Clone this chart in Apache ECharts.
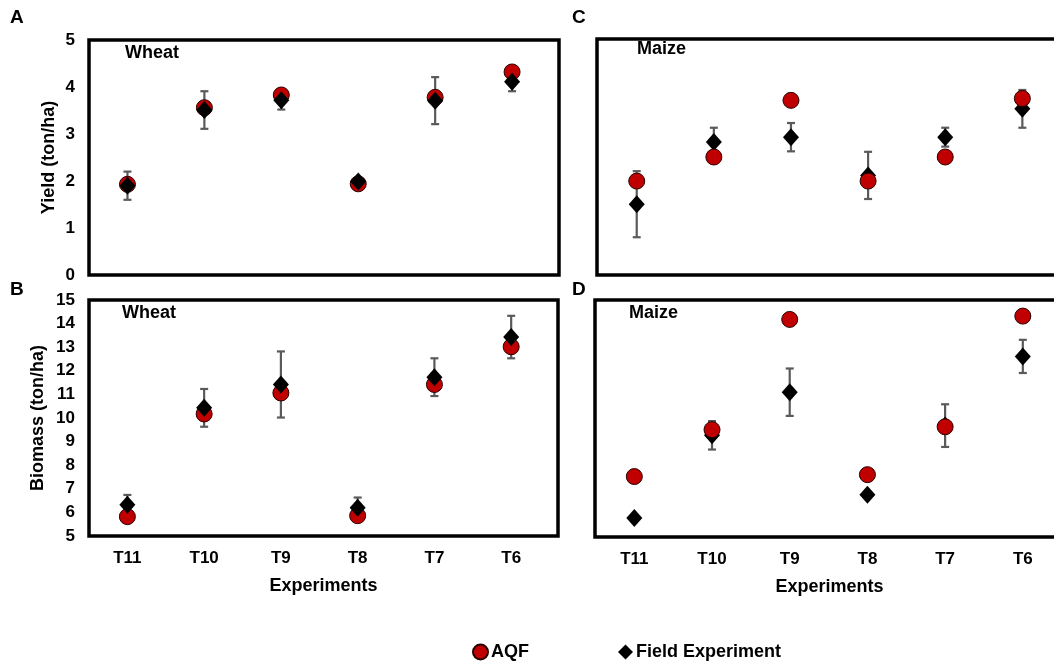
<!DOCTYPE html>
<html>
<head>
<meta charset="utf-8">
<script src="https://cdn.jsdelivr.net/npm/echarts@6/dist/echarts.min.js"></script>
<style>
html,body{margin:0;padding:0;background:#fff;}
#chart{width:1054px;height:666px;}
</style>
</head>
<body>
<div id="chart"></div>
<script>
// ---- Data ----
var categories = ['T11', 'T10', 'T9', 'T8', 'T7', 'T6'];
var yieldTicks = [0, 1, 2, 3, 4, 5];
var biomassTicks = [5, 6, 7, 8, 9, 10, 11, 12, 13, 14, 15];

var wheatYieldAQF = [1.93, 3.56, 3.83, 1.94, 3.78, 4.32];
var wheatYieldField = [1.90, 3.51, 3.72, 1.99, 3.71, 4.11];
var wheatYieldFieldErr = [0.30, 0.40, 0.20, 0.05, 0.50, 0.20];

var maizeYieldAQF = [1.99, 2.50, 3.70, 1.99, 2.50, 3.74];
var maizeYieldField = [1.50, 2.82, 2.92, 2.11, 2.92, 3.52];
var maizeYieldFieldErr = [0.70, 0.30, 0.30, 0.50, 0.20, 0.40];

var wheatBiomassAQF = [5.82, 10.17, 11.06, 5.86, 11.42, 13.02];
var wheatBiomassField = [6.32, 10.43, 11.42, 6.20, 11.73, 13.43];
var wheatBiomassFieldErr = [0.42, 0.80, 1.40, 0.43, 0.80, 0.90];

var maizeBiomassAQF = [7.55, 9.53, 14.18, 7.63, 9.65, 14.32];
var maizeBiomassField = [5.80, 9.29, 11.11, 6.78, 9.70, 12.62];
var maizeBiomassFieldErr = [0.10, 0.60, 1.00, 0.10, 0.90, 0.70];

// ---- Helpers ----
var FONT = '"Liberation Sans", Arial, sans-serif';
function pts(vals) { return vals.map(function (v, i) { return [i + 1, v]; }); }
function errs(vals, e) { return vals.map(function (v, i) { return [i + 1, v - e[i], v + e[i]]; }); }
var catPos = categories.map(function (c, i) { return i + 1; });

function errorRender(params, api) {
  var x = api.value(0);
  var lo = api.coord([x, api.value(1)]);
  var hi = api.coord([x, api.value(2)]);
  var cap = 4;
  var st = { stroke: '#5a5a5a', lineWidth: 2.2 };
  return {
    type: 'group',
    children: [
      { type: 'line', shape: { x1: lo[0], y1: lo[1], x2: hi[0], y2: hi[1] }, style: st },
      { type: 'line', shape: { x1: lo[0] - cap, y1: lo[1], x2: lo[0] + cap, y2: lo[1] }, style: st },
      { type: 'line', shape: { x1: hi[0] - cap, y1: hi[1], x2: hi[0] + cap, y2: hi[1] }, style: st }
    ]
  };
}

var aqfStyle = { color: '#C00000', borderColor: '#2a0000', borderWidth: 1, opacity: 1 };
var fieldStyle = { color: '#000000', opacity: 1 };

function aqfSeries(idx, vals, z) {
  return { name: 'AQF', type: 'scatter', xAxisIndex: idx, yAxisIndex: idx, symbol: 'circle', symbolSize: 16,
    itemStyle: aqfStyle, z: z, data: pts(vals), emphasis: { disabled: true } };
}
function fieldSeries(idx, vals, z) {
  return { name: 'Field Experiment', type: 'scatter', xAxisIndex: idx, yAxisIndex: idx, symbol: 'diamond', symbolSize: [16, 18],
    itemStyle: fieldStyle, z: z, data: pts(vals), emphasis: { disabled: true } };
}
function errSeries(idx, vals, e) {
  return { name: 'err' + idx, type: 'custom', xAxisIndex: idx, yAxisIndex: idx, z: 1,
    renderItem: errorRender, data: errs(vals, e), silent: true };
}

var gridBase = { show: true, borderColor: '#000', borderWidth: 3.5, backgroundColor: 'transparent',
  outerBoundsMode: 'none', containLabel: false };
var grids = [
  Object.assign({ left: 89, top: 40, width: 470, height: 235 }, gridBase),
  Object.assign({ left: 89, top: 300, width: 469, height: 236 }, gridBase),
  Object.assign({ left: 597, top: 39, width: 467, height: 236 }, gridBase),
  Object.assign({ left: 595, top: 300, width: 469, height: 237 }, gridBase)
];

var labelStyle = { fontFamily: FONT, fontWeight: 'bold', fontSize: 17, color: '#000' };

function xAx(idx, min, max, showLabel) {
  var ax = {
    type: 'value', gridIndex: idx, min: min, max: max,
    axisLine: { show: false }, axisTick: { show: false }, splitLine: { show: false },
    axisLabel: Object.assign({ show: showLabel, margin: 14, customValues: catPos,
      formatter: function (v) { return categories[Math.round(v) - 1] || ''; } }, labelStyle)
  };
  if (showLabel) {
    ax.name = 'Experiments';
    ax.nameLocation = 'middle';
    ax.nameGap = 41;
    ax.nameTextStyle = { fontFamily: FONT, fontWeight: 'bold', fontSize: 18, color: '#000' };
  }
  return ax;
}
function yAx(idx, ticks, showLabel, name, gap) {
  var ax = {
    type: 'value', gridIndex: idx, min: ticks[0], max: ticks[ticks.length - 1], interval: 1,
    axisLine: { show: false }, axisTick: { show: false }, splitLine: { show: false },
    axisLabel: Object.assign({ show: showLabel, margin: 14 }, labelStyle)
  };
  if (name) {
    ax.name = name;
    ax.nameLocation = 'middle';
    ax.nameGap = gap;
    ax.nameTextStyle = { fontFamily: FONT, fontWeight: 'bold', fontSize: 18, color: '#000' };
  }
  return ax;
}

function txt(x, y, s, size) {
  return { type: 'text', x: x, y: y, style: { text: s, fontFamily: FONT, fontWeight: 'bold', fontSize: size,
    fill: '#000', textVerticalAlign: 'middle', textAlign: 'left' }, z: 100 };
}

var option = {
  animation: false,
  backgroundColor: '#fff',
  grid: grids,
  xAxis: [
    xAx(0, 0.5, 6.61, false),
    xAx(1, 0.5, 6.61, true),
    xAx(2, 0.485, 6.54, false),
    xAx(3, 0.494, 6.53, true)
  ],
  yAxis: [
    yAx(0, yieldTicks, true, 'Yield (ton/ha)', 31),
    yAx(1, biomassTicks, true, 'Biomass (ton/ha)', 42),
    yAx(2, yieldTicks, false, null, 0),
    yAx(3, biomassTicks, false, null, 0)
  ],
  legend: {
    left: 472, top: 643, padding: 0, itemWidth: 15, itemHeight: 15, itemGap: 89,
    textStyle: { fontFamily: FONT, fontWeight: 'bold', fontSize: 18, color: '#000', padding: [0, 0, 0, -2] },
    selectedMode: false,
    data: [{ name: 'AQF', icon: 'circle' }, { name: 'Field Experiment', icon: 'diamond' }]
  },
  graphic: [
    txt(10, 18, 'A', 19), txt(10, 290, 'B', 19), txt(572, 18, 'C', 19), txt(572, 290, 'D', 19),
    txt(125, 53, 'Wheat', 18), txt(122, 313, 'Wheat', 18),
    txt(637, 49, 'Maize', 18), txt(629, 313, 'Maize', 18)
  ],
  series: [
    errSeries(0, wheatYieldField, wheatYieldFieldErr),
    aqfSeries(0, wheatYieldAQF, 2),
    fieldSeries(0, wheatYieldField, 3),

    errSeries(1, wheatBiomassField, wheatBiomassFieldErr),
    aqfSeries(1, wheatBiomassAQF, 2),
    fieldSeries(1, wheatBiomassField, 3),

    errSeries(2, maizeYieldField, maizeYieldFieldErr),
    fieldSeries(2, maizeYieldField, 2),
    aqfSeries(2, maizeYieldAQF, 3),

    errSeries(3, maizeBiomassField, maizeBiomassFieldErr),
    fieldSeries(3, maizeBiomassField, 2),
    aqfSeries(3, maizeBiomassAQF, 3)
  ]
};

var chart = echarts.init(document.getElementById('chart'), null, { renderer: 'canvas' });
chart.setOption(option);
</script>
</body>
</html>
